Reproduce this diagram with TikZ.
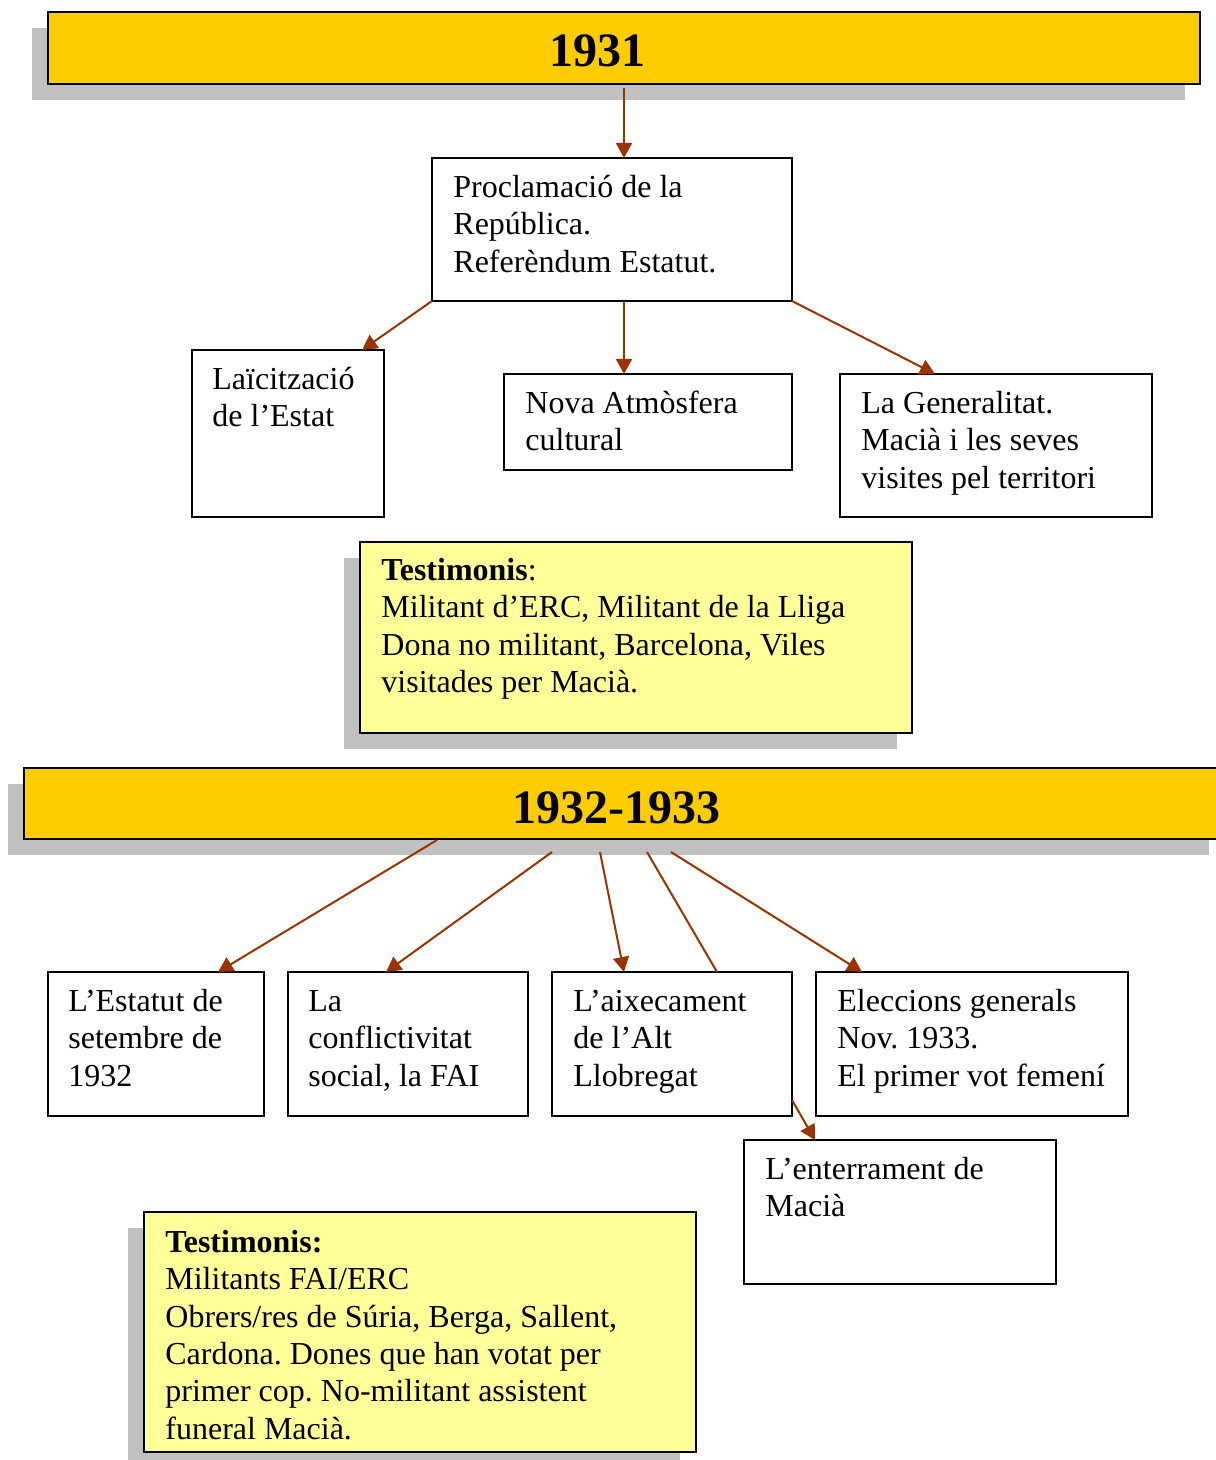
\documentclass[tikz,border=0pt]{standalone}
\usepackage{fontspec}
\setmainfont{Liberation Serif}
\usetikzlibrary{arrows.meta,calc}
\definecolor{gold}{HTML}{FFCC00}
\definecolor{lightyel}{HTML}{FFFF99}
\definecolor{shadowgray}{HTML}{C0C0C0}
\definecolor{arrowbrown}{HTML}{993300}
\newcommand{\bodyfont}{\fontsize{16}{18.65}\selectfont}
\frenchspacing
\begin{document}
\begin{tikzpicture}[x=0.5pt,y=-0.5pt,
  box/.style={draw=black,line width=1pt,fill=white,inner sep=0pt,outer sep=0pt,anchor=north west,rectangle},
  header/.style={box,fill=gold,line width=1.25pt},
  testbox/.style={box,fill=lightyel},
  shadowfill/.style={fill=shadowgray},
  txt/.style={anchor=north west,inner sep=0pt,align=left,font=\bodyfont},
  headtxt/.style={anchor=base,inner sep=0pt,font=\fontsize{24}{28}\selectfont\bfseries},
  conn/.style={draw=arrowbrown,line width=1pt},
  arr/.style={conn,-{Triangle[length=7.5pt,width=8pt]}}
]
\useasboundingbox (0,0) rectangle (1215,1460);
\fill[white] (0,0) rectangle (1215,1460);

% shadows
\fill[shadowfill] (32,28) rectangle (1185,100);
\fill[shadowfill] (344,558) rectangle (897,749);
\fill[shadowfill] (8,784) rectangle (1209,855);
\fill[shadowfill] (128,1228) rectangle (680,1468);

% 1931
\node[header,minimum width=576pt,minimum height=36pt] (h1) at (48,12) {};
\node[headtxt] (h1t) at (597,67) {1931};

\node[box,minimum width=180pt,minimum height=71.5pt] (procl) at (432,158) {};
\node[txt] (proclt) at ($(procl.north west)+(21,13)$) {\strut Proclamació de la\\República.\\Referèndum Estatut.};

\node[box,minimum width=96pt,minimum height=83.5pt] (laic) at (192,350) {};
\node[txt] (laict) at ($(laic.north west)+(20,13)$) {\strut Laïcització\\de l’Estat};

\node[box,minimum width=144pt,minimum height=48pt] (nova) at (504,374) {};
\node[txt] (novat) at ($(nova.north west)+(21,13)$) {\strut Nova Atmòsfera\\cultural};

\node[box,minimum width=156pt,minimum height=71.5pt] (gen) at (840,374) {};
\node[txt] (gent) at ($(gen.north west)+(21,13)$) {\strut La Generalitat.\\Macià i les seves\\visites pel territori};

\node[testbox,minimum width=276pt,minimum height=95.5pt] (test1) at (360,542) {};
\node[txt] (test1t) at ($(test1.north west)+(21,12)$) {\strut\textbf{Testimonis}:\\Militant d’ERC, Militant de la Lliga\\Dona no militant, Barcelona, Viles\\visitades per Macià.};

% 1932-1933
\node[header,minimum width=603pt,minimum height=35.5pt] (h2) at (24,768) {};
\node[headtxt] (h2t) at (616,823) {1932-1933};

\node[box,minimum width=108pt,minimum height=72pt] (estat) at (48,972) {};
\node[txt] (estatt) at ($(estat.north west)+(20,13)$) {\strut L’Estatut de\\setembre de\\1932};

\node[box,minimum width=120pt,minimum height=72pt] (confl) at (288,972) {};
\node[txt] (conflt) at ($(confl.north west)+(20,13)$) {\strut La\\conflictivitat\\social, la FAI};

\node[box,minimum width=120pt,minimum height=72pt] (aixec) at (552,972) {};
\node[txt] (aixect) at ($(aixec.north west)+(21,13)$) {\strut L’aixecament\\de l’Alt\\Llobregat};

\node[box,minimum width=156pt,minimum height=72pt] (elecc) at (816,972) {};
\node[txt] (elecct) at ($(elecc.north west)+(21,13)$) {\strut Eleccions generals\\Nov. 1933.\\El primer vot femení};

\node[box,minimum width=156pt,minimum height=72pt] (enter) at (744,1140) {};
\node[txt] (entert) at ($(enter.north west)+(21,13)$) {\strut L’enterrament de\\Macià};

\node[testbox,minimum width=276pt,minimum height=120pt] (test2) at (144,1212) {};
\node[txt] (test2t) at ($(test2.north west)+(21,14)$) {\strut\textbf{Testimonis:}\\Militants FAI/ERC\\Obrers/res de Súria, Berga, Sallent,\\Cardona. Dones que han votat per\\primer cop. No-militant assistent\\funeral Macià.};

% connectors 1931
\coordinate (h1o) at ($(h1.south west)+(576,4)$);
\draw[arr] (h1o) -- ($(procl.north west)+(192,0)$);
\draw[arr] (procl.south west) -- ($(laic.north east)+(-22,0)$);
\draw[arr] ($(procl.south west)+(192,0)$) -- ($(nova.north west)+(120,0)$);
\draw[arr] (procl.south east) -- ($(gen.north west)+(95,0)$);

% connectors 1932-1933
\draw[arr] ($(h2.south west)+(413,1)$) -- ($(estat.north west)+(170,0)$);
\draw[arr] ($(h2.south west)+(528,13)$) -- ($(confl.north west)+(98,0)$);
\draw[arr] ($(h2.south west)+(576,13)$) -- ($(aixec.north west)+(72,0)$);
\draw[conn] ($(h2.south west)+(623,13)$) -- ($(aixec.north west)+(165,0)$);
\draw[arr] ($(h2.south west)+(647,13)$) -- ($(elecc.north west)+(46,0)$);
\draw[arr] ($(aixec.south east)+(0,-16)$) -- ($(enter.north west)+(71,0)$);
\end{tikzpicture}
\end{document}
